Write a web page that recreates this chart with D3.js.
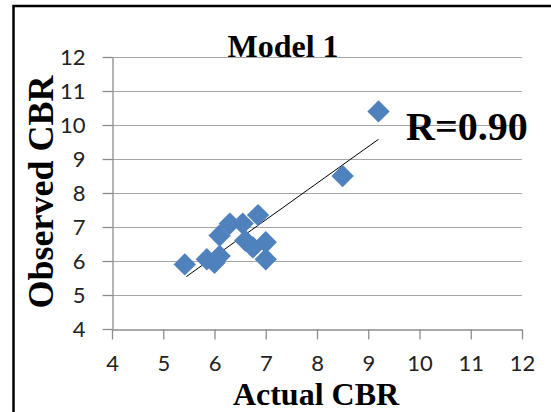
<!DOCTYPE html>
<html>
<head>
<meta charset="utf-8">
<script src="https://cdn.jsdelivr.net/npm/d3@7"></script>
<style>
  body { margin: 0; background: #fff; }
  .tick text { font-family: Lato, "Liberation Sans", sans-serif; font-size: 22px; fill: #222; }
  .ttl { font-family: "Liberation Serif", "Times New Roman", serif; font-weight: bold; fill: #000; }
</style>
</head>
<body>
<script>
// observed vs actual CBR (Model 1)
const actualCBR   = [5.42, 5.85, 6.0, 6.1, 6.1, 6.3, 6.55, 6.85, 6.6, 6.75, 7.0, 7.0, 8.5, 9.2];
const observedCBR = [5.9, 6.05, 5.95, 6.15, 6.75, 7.1, 7.1, 7.35, 6.6, 6.4, 6.55, 6.05, 8.5, 10.4];
const trendX = [5.45, 9.2];
const trendY = [5.54, 9.58];
const xTicks = [4, 5, 6, 7, 8, 9, 10, 11, 12];
const yTicks = [4, 5, 6, 7, 8, 9, 10, 11, 12];

var width = 551, height = 412;

var x = d3.scaleLinear().domain([4, 12]).range([112, 522]);
var y = d3.scaleLinear().domain([4, 12]).range([329, 57]);

var svg = d3.select('body').append('svg')
    .attr('width', width)
    .attr('height', height);

// frame (only left/top edges visible in the crop)
svg.append('rect')
    .attr('x', 13.5).attr('y', 6)
    .attr('width', 700).attr('height', 600)
    .attr('fill', 'none')
    .attr('stroke', '#000')
    .attr('stroke-width', 2.5);

// horizontal gridlines
svg.append('g').selectAll('line')
    .data(yTicks.slice(1))
    .enter().append('line')
    .attr('x1', x(4)).attr('x2', x(12))
    .attr('y1', d => Math.round(y(d)) + 0.5)
    .attr('y2', d => Math.round(y(d)) + 0.5)
    .attr('stroke', '#a6a6a6')
    .attr('stroke-width', 1.2);

var xAxis = d3.axisBottom(x).tickValues(xTicks).tickSize(10).tickSizeOuter(0).tickPadding(16);
var yAxis = d3.axisLeft(y).tickValues(yTicks).tickSize(10).tickSizeOuter(0).tickPadding(17);

var xg = svg.append('g')
    .attr('transform', `translate(0, ${Math.round(y(4)) + 0.5})`)
    .call(xAxis);
var yg = svg.append('g')
    .attr('transform', `translate(${Math.round(x(4)) + 0.5}, 0)`)
    .call(yAxis);

[xg, yg].forEach(g => {
    g.selectAll('.domain, .tick line').attr('stroke', '#8c8c8c').attr('stroke-width', 1.3);
    g.selectAll('text').attr('font-family', null).attr('font-size', null);
});

// trend line
svg.append('line')
    .attr('x1', x(trendX[0])).attr('y1', y(trendY[0]))
    .attr('x2', x(trendX[1])).attr('y2', y(trendY[1]))
    .attr('stroke', '#000')
    .attr('stroke-width', 1);

// diamond markers
var diamond = d3.symbol().type(d3.symbolSquare).size(250);
svg.append('g').selectAll('path')
    .data(actualCBR)
    .enter().append('path')
    .attr('d', diamond)
    .attr('transform', (d, i) => `translate(${x(d)}, ${y(observedCBR[i])}) rotate(45)`)
    .attr('fill', '#4f81bd');

// texts
svg.append('text').attr('class', 'ttl')
    .attr('x', 283).attr('y', 57)
    .attr('text-anchor', 'middle')
    .attr('font-size', 32)
    .text('Model 1');

svg.append('text').attr('class', 'ttl')
    .attr('x', 406).attr('y', 140)
    .attr('font-size', 40)
    .text('R=0.90');

svg.append('text').attr('class', 'ttl')
    .attr('x', 316).attr('y', 405)
    .attr('text-anchor', 'middle')
    .attr('font-size', 32)
    .text('Actual CBR');

svg.append('text').attr('class', 'ttl')
    .attr('transform', 'translate(53, 192) rotate(-90)')
    .attr('text-anchor', 'middle')
    .attr('font-size', 36)
    .text('Observed CBR');
</script>
</body>
</html>
